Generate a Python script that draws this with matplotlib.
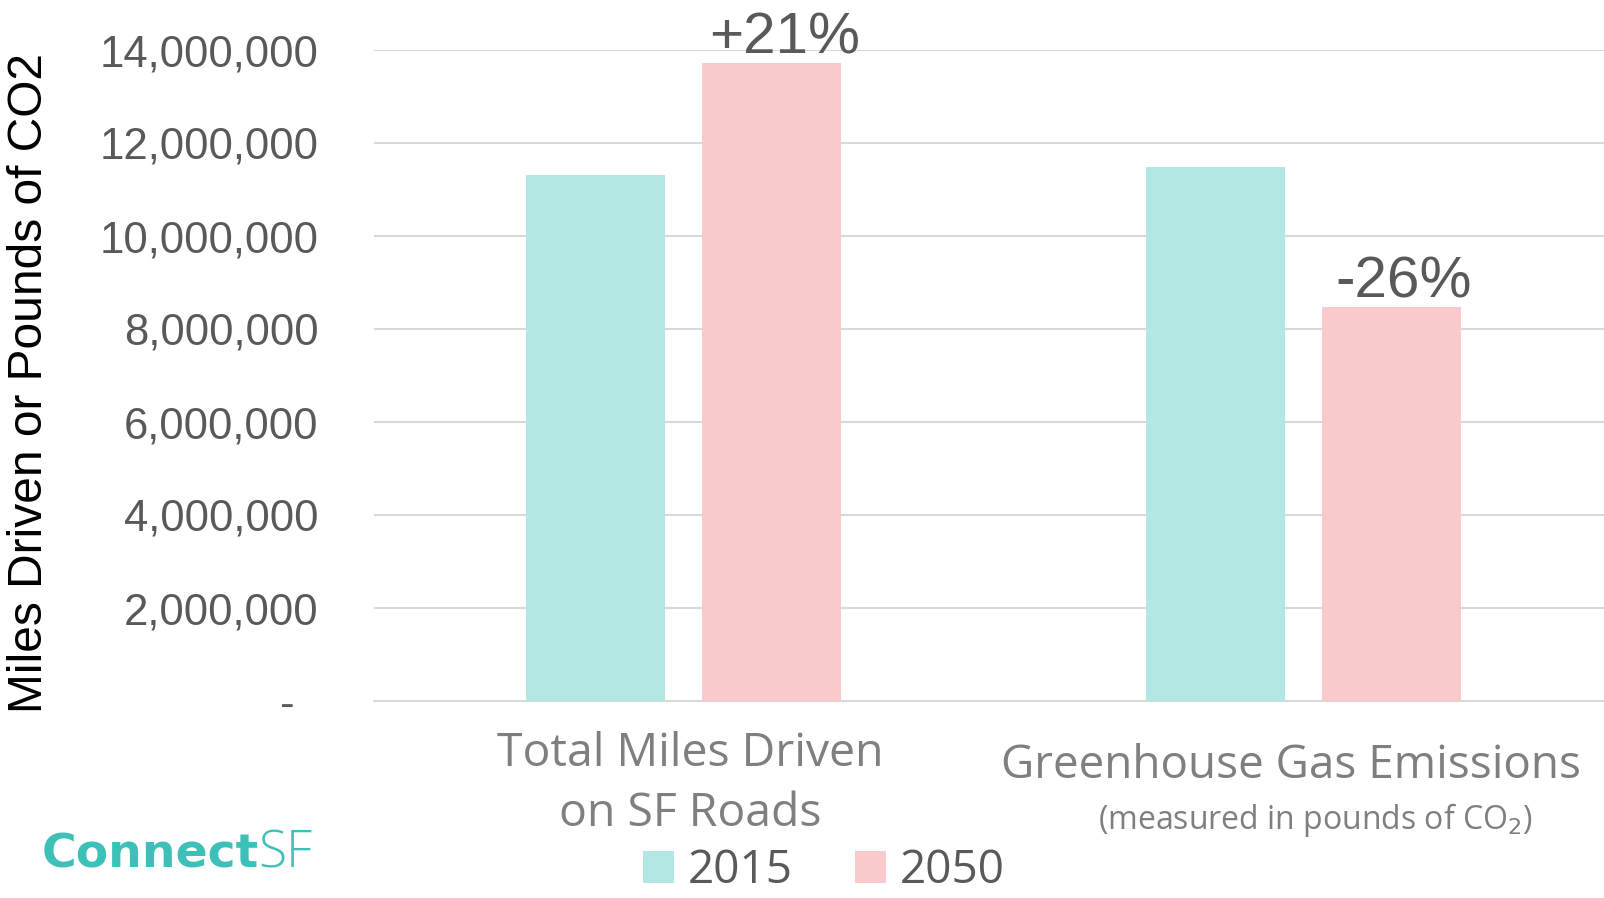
import matplotlib.pyplot as plt
from matplotlib.ticker import FuncFormatter
from matplotlib.transforms import blended_transform_factory

categories = ["Total Miles Driven\non SF Roads", "Greenhouse Gas Emissions"]
cat_notes = ["", "(measured in pounds of CO$_2$)"]
years = ["2015", "2050"]
values_2015 = [11310000, 11490000]
values_2050 = [13710000, 8470000]
changes = ["+21%", "-26%"]

teal = "#b3e7e4"
pink = "#f9c9cc"
grey_txt = "#595959"
cat_grey = "#7f7f7f"

fig = plt.figure(figsize=(16.04, 8.98), dpi=100)
# axes runs a little past the right edge, like the original
ax = fig.add_axes([374 / 1604, 1 - 701 / 898, 1239 / 1604, (701 - 50) / 898])

x = [0, 1]
w = 0.225
off = 0.142
ax.bar([i - off for i in x], values_2015, w, color=teal, label=years[0], zorder=3)
b2 = ax.bar([i + off for i in x], values_2050, w, color=pink, label=years[1], zorder=3)

for rect, txt in zip(b2, changes):
    ax.annotate(txt, (rect.get_x() + rect.get_width() / 2, rect.get_height()),
                xytext=(9, 7), textcoords="offset points", ha="center", va="baseline",
                fontsize=42, color=grey_txt, family="Liberation Sans", annotation_clip=False)

ax.set_xlim(-0.5, 1.5)
ax.set_ylim(0, 14000000)
ax.set_yticks(range(0, 14000001, 2000000))
ax.yaxis.set_major_formatter(FuncFormatter(lambda v, p: f"{int(v):,}" if v else "-  "))
ax.tick_params(axis="y", length=0, pad=40, labelsize=31.5, labelcolor=grey_txt)
for lab in ax.get_yticklabels():
    lab.set_family("Liberation Sans")
ax.tick_params(axis="x", length=0, labelbottom=False)
ax.grid(axis="y", color="#d9d9d9", linewidth=1.5, zorder=0)
for s in ["left", "right", "top"]:
    ax.spines[s].set_visible(False)
ax.spines["bottom"].set_color("#d9d9d9")
ax.spines["bottom"].set_linewidth(1.5)

ax.set_ylabel("Miles Driven or Pounds of CO2", fontsize=34.5, color="black",
              family="Liberation Sans")
ax.yaxis.set_label_coords((52 - 374) / 1239, 0.488)

tr = blended_transform_factory(ax.transData, fig.transFigure)
ax.text(0.01, 1 - 784 / 898, categories[0], transform=tr, ha="center", va="center",
        fontsize=33.4, color=cat_grey, family="Open Sans", linespacing=1.42)
ax.text(0.98, 1 - 766 / 898, categories[1], transform=tr, ha="center", va="center",
        fontsize=33, color=cat_grey, family="Open Sans")
ax.text(1.02, 1 - 820 / 898, cat_notes[1], transform=tr, ha="center", va="center",
        fontsize=23, color=cat_grey, family="Open Sans")

fig.legend(loc="center", bbox_to_anchor=(824 / 1604, 1 - 871 / 898), ncol=2, frameon=False,
           prop={"family": "Open Sans", "size": 33}, labelcolor=grey_txt, borderpad=0,
           handlelength=0.68, handleheight=0.68, handletextpad=0.3, columnspacing=1.35)

fig.text(42 / 1604, 1 - 868 / 898, "Connect", fontsize=34, fontweight="bold",
         color="#3cc0b8", family="DejaVu Sans", va="baseline")
fig.text(258 / 1604, 1 - 868 / 898, "SF", fontsize=37, fontweight="light",
         color="#3cc0b8", family="Open Sans", va="baseline")

fig.savefig("out.png", dpi=100)
